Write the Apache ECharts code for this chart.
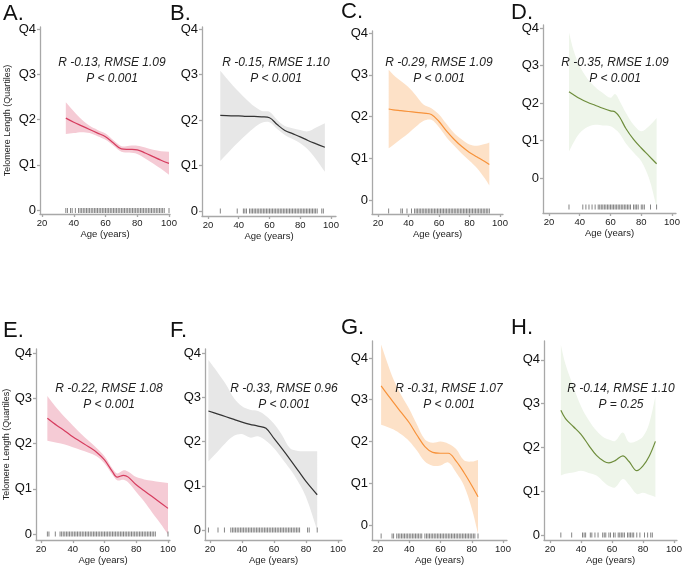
<!DOCTYPE html>
<html>
<head>
<meta charset="utf-8">
<script src="https://cdn.jsdelivr.net/npm/echarts@6/dist/echarts.min.js"></script>
<style>html,body{margin:0;padding:0;background:#fff}#c{width:685px;height:566px}</style>
</head>
<body>
<div id="c"></div>
<script>
// ---------- data ----------
const panelLetters = ['A.', 'B.', 'C.', 'D.', 'E.', 'F.', 'G.', 'H.'];
const statLine1 = ['R -0.13, RMSE 1.09', 'R -0.15, RMSE 1.10', 'R -0.29, RMSE 1.09', 'R -0.35, RMSE 1.09',
                   'R -0.22, RMSE 1.08', 'R -0.33, RMSE 0.96', 'R -0.31, RMSE 1.07', 'R -0.14, RMSE 1.10'];
const statLine2 = ['P < 0.001', 'P < 0.001', 'P < 0.001', 'P < 0.001', 'P < 0.001', 'P < 0.001', 'P < 0.001', 'P = 0.25'];
const yTickValues = [0, 1, 2, 3, 4];
const yTickLabels = ['0', 'Q1', 'Q2', 'Q3', 'Q4'];
const xTickValues = [20, 40, 60, 80, 100];
const xAxisTitle = 'Age (years)';
const yAxisTitle = 'Telomere Length (Quartiles)';

const ageA = [35, 40, 45, 50, 55, 60, 65, 70, 75, 80, 85, 90, 95, 100];
const fitA = [2.03, 1.94, 1.86, 1.78, 1.70, 1.62, 1.48, 1.35, 1.34, 1.33, 1.26, 1.18, 1.10, 1.03];
const upA  = [2.38, 2.18, 2.00, 1.86, 1.77, 1.69, 1.54, 1.41, 1.42, 1.42, 1.38, 1.33, 1.30, 1.29];
const loA  = [1.68, 1.70, 1.72, 1.70, 1.63, 1.55, 1.42, 1.29, 1.27, 1.24, 1.14, 1.03, 0.91, 0.78];
const rugA = [35,36,38,39,41,43,44,45,46,47,48,49,50,51,52,53,54,55,56,57,58,59,60,61,62,63,64,65,66,67,68,69,70,71,72,73,74,75,76,77,78,79,80,81,82,83,84,85,86,87,88,89,90,91,92,93,94,95,96,97,100];

const ageB = [28, 35, 40, 45, 50, 55, 60, 65, 70, 75, 80, 85, 90, 96];
const fitB = [2.10, 2.09, 2.09, 2.08, 2.08, 2.07, 2.05, 1.90, 1.77, 1.70, 1.63, 1.55, 1.48, 1.40];
const upB  = [3.08, 2.80, 2.62, 2.45, 2.30, 2.20, 2.18, 2.00, 1.87, 1.82, 1.78, 1.75, 1.83, 1.93];
const loB  = [1.10, 1.35, 1.52, 1.68, 1.83, 1.94, 1.95, 1.80, 1.67, 1.58, 1.49, 1.35, 1.15, 0.86];
const rugB = [28,39,43,44,45,47,48,49,50,51,52,53,54,55,56,57,58,59,60,61,62,63,64,65,66,67,68,69,70,71,72,73,74,75,76,77,78,79,80,81,82,83,84,85,86,87,88,89,90,91,94,95];

const ageC = [27, 30, 35, 40, 45, 50, 55, 60, 65, 70, 75, 80, 85, 90, 93];
const fitC = [2.18, 2.16, 2.14, 2.12, 2.10, 2.08, 2.05, 1.88, 1.65, 1.45, 1.28, 1.14, 1.03, 0.92, 0.85];
const upC  = [3.12, 3.00, 2.85, 2.70, 2.50, 2.28, 2.20, 2.05, 1.82, 1.60, 1.45, 1.33, 1.30, 1.34, 1.38];
const loC  = [1.24, 1.32, 1.46, 1.60, 1.76, 1.90, 1.92, 1.74, 1.50, 1.30, 1.11, 0.94, 0.76, 0.52, 0.35];
const rugC = [27,35,36,39,42,44,45,46,47,48,49,50,51,52,53,54,55,56,57,58,59,60,61,62,63,64,65,66,67,68,69,70,71,72,73,74,75,76,77,78,79,80,81,82,83,84,85,86,87,88,89,90,91,92,93];

const ageD = [33, 36, 40, 45, 50, 55, 60, 63, 66, 70, 75, 80, 85, 90];
const fitD = [2.30, 2.22, 2.12, 2.02, 1.94, 1.86, 1.79, 1.76, 1.62, 1.32, 1.03, 0.80, 0.59, 0.38];
const upD  = [3.88, 3.40, 2.98, 2.65, 2.43, 2.27, 2.14, 2.24, 2.05, 1.74, 1.42, 1.25, 1.38, 1.60];
const loD  = [0.71, 0.95, 1.20, 1.36, 1.42, 1.40, 1.38, 1.30, 1.18, 0.92, 0.68, 0.45, 0.00, -0.78];
const rugD = [33,42,44,46,48,50,52,53,54,55,56,57,58,59,60,61,62,63,64,65,66,67,68,69,70,71,72,73,75,76,77,78,80,81,82,86,90];

const ageE = [24, 30, 35, 40, 45, 50, 55, 60, 65, 68, 72, 75, 80, 85, 90, 95, 100];
const fitE = [2.56, 2.40, 2.28, 2.15, 2.04, 1.93, 1.81, 1.64, 1.38, 1.26, 1.30, 1.26, 1.09, 0.96, 0.83, 0.70, 0.57];
const upE  = [3.05, 2.78, 2.58, 2.40, 2.22, 2.06, 1.90, 1.72, 1.45, 1.34, 1.41, 1.38, 1.26, 1.21, 1.18, 1.15, 1.13];
const loE  = [2.06, 2.02, 1.98, 1.92, 1.86, 1.80, 1.72, 1.56, 1.31, 1.19, 1.20, 1.14, 0.93, 0.72, 0.48, 0.25, 0.00];
const rugE = [24,25,29,32,33,34,35,36,37,38,39,40,41,42,43,44,45,46,47,48,49,50,51,52,53,54,55,56,57,58,59,60,61,62,63,64,65,66,67,68,69,70,71,72,73,74,75,76,77,78,79,80,81,82,83,84,85,86,87,88,89,90,91,92,100];

const ageF = [19, 25, 30, 35, 40, 45, 50, 55, 60, 65, 70, 75, 80, 87];
const fitF = [2.69, 2.62, 2.56, 2.50, 2.44, 2.39, 2.35, 2.30, 2.07, 1.84, 1.60, 1.35, 1.10, 0.80];
const upF  = [3.84, 3.55, 3.29, 2.98, 2.80, 2.72, 2.69, 2.58, 2.40, 2.15, 1.85, 1.79, 1.78, 1.78];
const loF  = [1.55, 1.78, 1.98, 2.13, 2.17, 2.09, 2.12, 2.02, 1.85, 1.62, 1.38, 1.10, 0.75, 0.00];
const rugF = [19,25,29,33,34,35,36,37,38,39,40,41,42,43,44,45,46,47,48,49,50,51,52,53,54,55,56,57,58,59,60,61,62,63,64,65,66,67,68,69,70,71,72,73,74,75,76,81,82,87];

const ageG = [22, 26, 30, 35, 40, 45, 50, 55, 60, 65, 70, 75, 80, 84];
const fitG = [3.33, 3.13, 2.93, 2.69, 2.45, 2.15, 1.88, 1.74, 1.72, 1.72, 1.53, 1.26, 0.95, 0.68];
const upG  = [4.32, 3.88, 3.48, 3.10, 2.78, 2.40, 2.05, 1.97, 2.00, 1.95, 1.82, 1.55, 1.52, 1.56];
const loG  = [2.40, 2.35, 2.29, 2.17, 2.01, 1.78, 1.52, 1.42, 1.43, 1.50, 1.26, 0.95, 0.40, -0.20];
const rugG = [22,29,30,32,33,34,35,36,37,38,39,40,41,42,43,44,45,46,47,48,50,51,52,53,54,55,56,57,58,59,60,61,62,63,64,65,66,67,68,69,70,71,72,73,74,75,76,77,78,79,80,81,82,84];

const ageH = [27, 30, 35, 40, 45, 50, 55, 58, 62, 67, 71, 76, 80, 84, 88];
const fitH = [2.85, 2.66, 2.48, 2.30, 2.05, 1.82, 1.68, 1.65, 1.70, 1.81, 1.68, 1.47, 1.58, 1.80, 2.14];
const upH  = [4.34, 3.90, 3.40, 2.94, 2.62, 2.38, 2.22, 2.18, 2.15, 2.34, 2.12, 2.15, 2.25, 2.55, 3.17];
const loH  = [1.36, 1.40, 1.43, 1.47, 1.42, 1.36, 1.20, 1.12, 1.09, 1.28, 1.15, 0.94, 0.97, 0.92, 0.87];
const rugH = [27,34,41,42,43,46,47,49,51,54,55,56,58,59,61,62,64,65,66,67,68,70,71,72,73,74,76,78,81,83,85,86];

// ---------- styling / layout ----------
const FONT = 'Liberation Sans, Arial, Helvetica, sans-serif';
const RED = {line: '#d63d5f', band: '#f5cbd5'};
const GRAY = {line: '#333333', band: '#e7e7e7'};
const ORANGE = {line: '#f7923a', band: '#fde1c7'};
const GREEN = {line: '#6e8d3c', band: '#eef5ea'};

const panels = [
  {d: [ageA, fitA, upA, loA, rugA], c: RED,    g: {left: 40,  top: 27,  width: 130, height: 187}, x: [18.74, 100.63], y: [-0.088, 4.044], rug: 3.5, yName: true,  letter: [3, 14],   stat: [112, 63]},
  {d: [ageB, fitB, upB, loB, rugB], c: GRAY,   g: {left: 202, top: 27,  width: 134, height: 189}, x: [16.10, 103.25], y: [-0.11, 4.044],  rug: 5,   yName: false, letter: [170, 14], stat: [276, 63]},
  {d: [ageC, fitC, upC, loC, rugC], c: ORANGE, g: {left: 372, top: 31,  width: 131, height: 183}, x: [16.07, 101.97], y: [-0.335, 4.048], rug: 3,   yName: false, letter: [341, 12], stat: [439, 63]},
  {d: [ageD, fitD, upD, loD, rugD], c: GREEN,  g: {left: 543, top: 25,  width: 133, height: 188}, x: [16.10, 102.6],  y: [-0.933, 4.08],  rug: 6,   yName: false, letter: [511, 13], stat: [615, 63]},
  {d: [ageE, fitE, upE, loE, rugE], c: RED,    g: {left: 36,  top: 349, width: 134, height: 194}, x: [16.85, 101.26], y: [-0.13, 4.087],  rug: 6,   yName: true,  letter: [3, 331],  stat: [109, 389]},
  {d: [ageF, fitF, upF, loF, rugF], c: GRAY,   g: {left: 205, top: 349, width: 137, height: 193}, x: [16.875, 102.5], y: [-0.223, 4.089], rug: 10,  yName: false, letter: [170, 331], stat: [284, 389]},
  {d: [ageG, fitG, upG, loG, rugG], c: ORANGE, g: {left: 372, top: 341, width: 135, height: 200}, x: [16.16, 102.56], y: [-0.357, 4.405], rug: 4,   yName: false, letter: [341, 328], stat: [449, 389]},
  {d: [ageH, fitH, upH, loH, rugH], c: GREEN,  g: {left: 544, top: 341, width: 133, height: 201}, x: [16.13, 101.94], y: [-0.113, 4.43],  rug: 5,   yName: false, letter: [511, 328], stat: [621, 389]}
];

const grid = [], xAxis = [], yAxis = [], series = [], graphic = [];
const axisLineStyle = {color: '#a8a8a8', width: 1.3};

panels.forEach((p, i) => {
  const [age, fit, up, lo, rug] = p.d;
  grid.push(Object.assign({containLabel: false}, p.g));
  xAxis.push({
    type: 'value', gridIndex: i, min: p.x[0], max: p.x[1], z: 5,
    axisLine: {show: true, onZero: false, lineStyle: axisLineStyle},
    axisTick: {show: true, length: 3, lineStyle: axisLineStyle, customValues: xTickValues},
    axisLabel: {fontFamily: FONT, fontSize: 9.5, color: '#222', margin: 4, customValues: xTickValues},
    splitLine: {show: false},
    name: xAxisTitle, nameLocation: 'middle', nameGap: 13,
    nameTextStyle: {fontFamily: FONT, fontSize: 9.5, color: '#222'}
  });
  yAxis.push({
    type: 'value', gridIndex: i, min: p.y[0], max: p.y[1], z: 5,
    axisLine: {show: true, onZero: false, lineStyle: axisLineStyle},
    axisTick: {show: true, length: 3, lineStyle: axisLineStyle, customValues: yTickValues},
    axisLabel: {fontFamily: FONT, fontSize: 13, color: '#111', margin: 4, customValues: yTickValues,
                formatter: v => yTickLabels[yTickValues.indexOf(Math.round(v))]},
    splitLine: {show: false},
    name: p.yName ? yAxisTitle : '', nameLocation: 'middle', nameGap: i === 0 ? 28 : 24,
    nameTextStyle: {fontFamily: FONT, fontSize: 9, color: '#222'}
  });
  const band = p.c.band;
  // confidence band: one smoothed polygon through the upper bounds and back along the lower bounds
  series.push({
    type: 'custom', xAxisIndex: i, yAxisIndex: i, silent: true, animation: false, z: 1, clip: true,
    data: age.map((a, k) => [a, lo[k], up[k]]),
    encode: {x: 0, y: [1, 2]},
    renderItem: (params, api) => {
      if (params.dataIndex !== 0) return null;
      const n = age.length, top = [], bot = [];
      for (let k = 0; k < n; k++) {
        top.push(api.coord([api.value(0, k), api.value(2, k)]));
        bot.push(api.coord([api.value(0, k), api.value(1, k)]));
      }
      const botR = bot.slice().reverse();
      // end points repeated so the vertical end edges stay straight
      const pts = [top[0]].concat(top, [top[n - 1]], [botR[0]], botR, [botR[n - 1]]);
      return {type: 'polygon', shape: {points: pts, smooth: 0.35}, style: {fill: band}};
    }
  });
  series.push({
    xAxisIndex: i, yAxisIndex: i, type: 'line', symbol: 'none', smooth: 0.35, silent: true, animation: false,
    data: age.map((a, k) => [a, fit[k]]), z: 2,
    lineStyle: {color: p.c.line, width: 1.2}
  });
  series.push({
    type: 'scatter', xAxisIndex: i, yAxisIndex: i, silent: true, animation: false, clip: false, z: 3,
    data: rug.map(a => [a, p.y[0]]), symbol: 'rect', symbolSize: [0.9, 5], symbolOffset: [0, -p.rug],
    itemStyle: {color: '#555'}
  });
  graphic.push({type: 'text', left: p.letter[0], top: p.letter[1] - 11, silent: true, z: 100,
    style: {text: panelLetters[i], font: '22px ' + FONT, fill: '#111'}});
  graphic.push({type: 'text', x: p.stat[0], y: p.stat[1], silent: true, z: 100,
    style: {text: statLine1[i], font: 'italic 12px ' + FONT, fill: '#222', textAlign: 'center', textVerticalAlign: 'middle'}});
  graphic.push({type: 'text', x: p.stat[0], y: p.stat[1] + 16, silent: true, z: 100,
    style: {text: statLine2[i], font: 'italic 12px ' + FONT, fill: '#222', textAlign: 'center', textVerticalAlign: 'middle'}});
});

const chart = echarts.init(document.getElementById('c'), null, {renderer: 'canvas'});
chart.setOption({animation: false, backgroundColor: '#fff', grid, xAxis, yAxis, series, graphic});
</script>
</body>
</html>
